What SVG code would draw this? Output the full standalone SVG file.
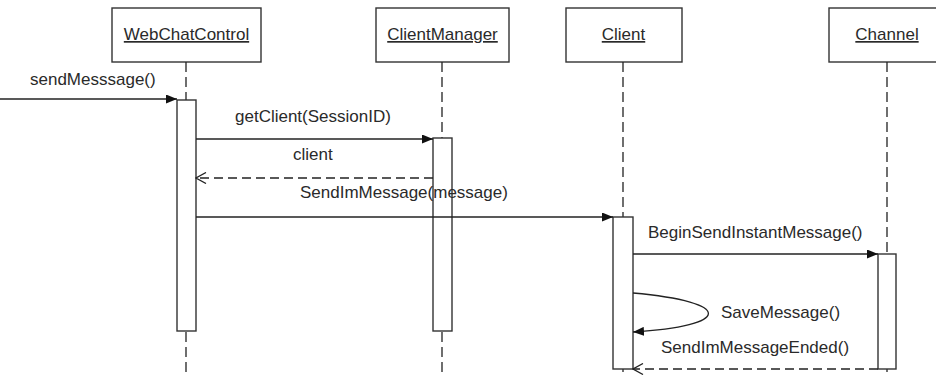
<svg xmlns="http://www.w3.org/2000/svg" width="936" height="376" viewBox="0 0 936 376">
<defs>
<style>
.box{fill:#fff;stroke:#333;stroke-width:1.4}
.life{stroke:#222;stroke-width:1.3;stroke-dasharray:10 5;fill:none}
.act{fill:#fff;stroke:#333;stroke-width:1.4}
.msg{stroke:#222;stroke-width:1.3;fill:none}
.ret{stroke:#222;stroke-width:1.3;fill:none;stroke-dasharray:9 5}
text{font-family:"Liberation Sans",Arial,sans-serif;font-size:17px;fill:#2a2a2a}
.hd{text-anchor:middle;text-decoration:underline}
</style>
<marker id="fill" viewBox="0 0 11 9" refX="11" refY="4.5" markerWidth="11" markerHeight="9" markerUnits="userSpaceOnUse" orient="auto">
<path d="M0,0 L11,4.5 L0,9 z" fill="#111"/>
</marker>
<marker id="open" viewBox="0 0 12 12" refX="11" refY="6" markerWidth="12" markerHeight="12" markerUnits="userSpaceOnUse" orient="auto">
<path d="M1,0.5 L11,6 L1,11.5" fill="none" stroke="#222" stroke-width="1.3"/>
</marker>
</defs>
<rect width="936" height="376" fill="#fff"/>

<g id="WebChatControl">
<rect class="box" x="112" y="8" width="149" height="54"/>
<text class="hd" x="186.5" y="40">WebChatControl</text>
<line class="life" x1="186" y1="62" x2="186" y2="376"/>
<rect class="act" x="177" y="100" width="19" height="231"/>
</g>
<g id="ClientManager">
<rect class="box" x="376" y="8" width="133" height="54"/>
<text class="hd" x="442.5" y="40">ClientManager</text>
<line class="life" x1="442" y1="62" x2="442" y2="376"/>
<rect class="act" x="433" y="138" width="19" height="193"/>
</g>
<g id="Client">
<rect class="box" x="566" y="8" width="116" height="54"/>
<text class="hd" x="623.5" y="40">Client</text>
<line class="life" x1="623" y1="62" x2="623" y2="376"/>
<rect class="act" x="613" y="217" width="20" height="152"/>
</g>
<g id="Channel">
<rect class="box" x="829" y="8" width="116" height="54"/>
<text class="hd" x="887" y="40">Channel</text>
<line class="life" x1="887" y1="62" x2="887" y2="376"/>
<rect class="act" x="878" y="254" width="18" height="115"/>
</g>

<g id="connectors">
<line class="msg" x1="0" y1="99" x2="177" y2="99" marker-end="url(#fill)"/>
<text x="30" y="85">sendMesssage()</text>
<line class="msg" x1="196" y1="139" x2="433" y2="139" marker-end="url(#fill)"/>
<text x="235" y="122">getClient(SessionID)</text>
<line class="ret" x1="433" y1="178" x2="196" y2="178" marker-end="url(#open)"/>
<text x="293" y="160">client</text>
<line class="msg" x1="196" y1="217" x2="613" y2="217" marker-end="url(#fill)"/>
<text x="300" y="198">SendImMessage(message)</text>
<line class="msg" x1="633" y1="254" x2="878" y2="254" marker-end="url(#fill)"/>
<text x="648" y="238">BeginSendInstantMessage()</text>
<path class="msg" d="M633,293 C735,302 732,326 633,332" marker-end="url(#fill)"/>
<text x="721" y="318">SaveMessage()</text>
<line class="ret" x1="878" y1="369" x2="633" y2="369" marker-end="url(#open)"/>
<text x="661" y="353">SendImMessageEnded()</text>
</g>
</svg>
